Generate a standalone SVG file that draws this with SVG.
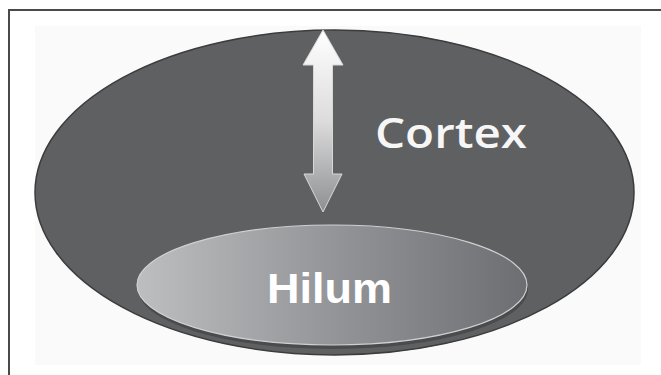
<svg xmlns="http://www.w3.org/2000/svg" width="661" height="375" viewBox="0 0 661 375">
<style>
.frame{stroke:#4a4a4a;stroke-width:2;fill:none}
.lbl{font-family:"Open Sans","Noto Sans","DejaVu Sans",sans-serif;fill:#f6f6f6}
</style>
<defs>
<linearGradient id="hg" x1="0" y1="0" x2="1" y2="0">
<stop offset="0" stop-color="#bdbec0"/>
<stop offset="0.5" stop-color="#949598"/>
<stop offset="1" stop-color="#6d6e71"/>
</linearGradient>
<linearGradient id="ag" x1="0" y1="0" x2="0" y2="1">
<stop offset="0" stop-color="#ffffff"/>
<stop offset="0.5" stop-color="#dcdcdc"/>
<stop offset="1" stop-color="#8e8f92"/>
</linearGradient>
</defs>
<rect x="0" y="0" width="661" height="375" fill="#ffffff"/>
<rect x="35" y="26" width="606" height="339" fill="#fafafa"/>
<path class="frame" d="M9 375 V10 H661"/>
<g id="cortex">
<ellipse cx="334.5" cy="192.5" rx="299.5" ry="162.5" fill="#5f6062" stroke="#3c3c3e" stroke-width="1.5"/>
<text class="lbl" x="375" y="148" font-size="42" font-weight="600" textLength="152" lengthAdjust="spacingAndGlyphs">Cortex</text>
</g>
<g id="hilum">
<ellipse cx="333" cy="289" rx="195" ry="60" fill="#4a4b4d"/>
<ellipse cx="332" cy="285" rx="195" ry="60" fill="url(#hg)" stroke="#cfd0d2" stroke-width="1.2"/>
<text x="267" y="303" font-family="'Liberation Sans','DejaVu Sans',sans-serif" font-weight="bold" font-size="43" fill="#ffffff" textLength="125" lengthAdjust="spacingAndGlyphs">Hilum</text>
</g>
<g id="connectors">
<path d="M323 30 L343 65 L332.5 65 L332.5 174 L342 174 L323 212 L304 174 L313.5 174 L313.5 65 L303 65 Z" fill="url(#ag)" stroke="#d8d8d8" stroke-width="1"/>
</g>
</svg>
